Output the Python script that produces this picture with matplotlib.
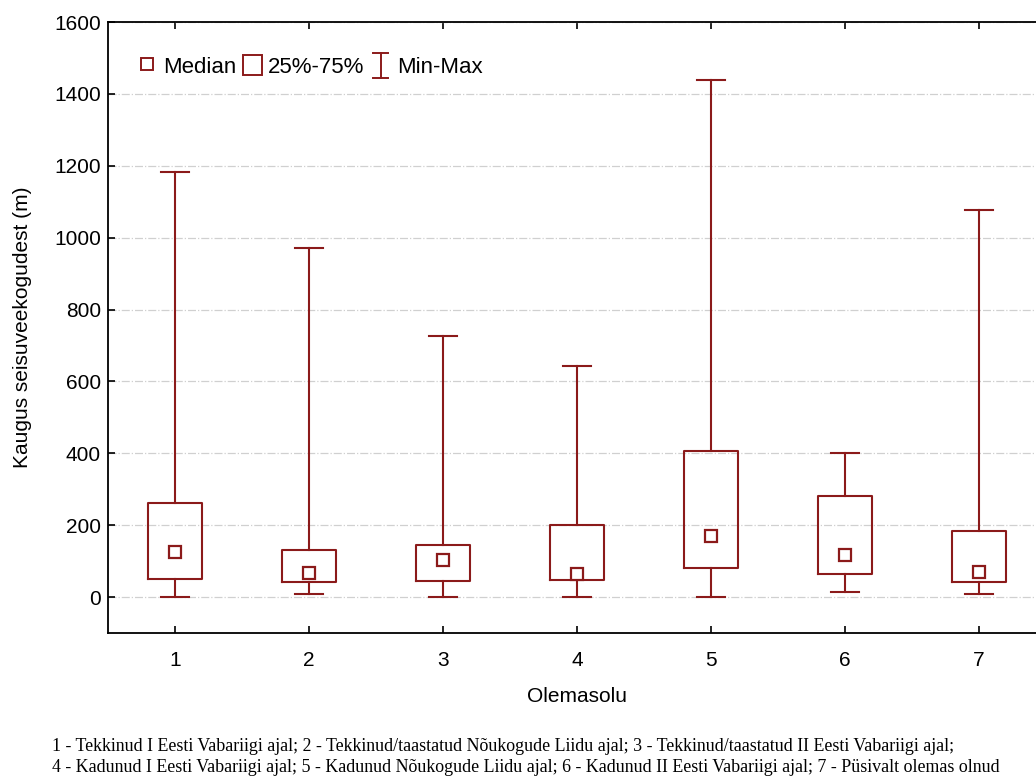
import matplotlib.pyplot as plt
from matplotlib.patches import Patch
from matplotlib.lines import Line2D
from matplotlib.legend_handler import HandlerBase

plt.rcParams['font.family'] = ['Liberation Sans', 'DejaVu Sans']

# Olemasolu rühmad ja kaugused (m)
groups = [1, 2, 3, 4, 5, 6, 7]
minimum = [0, 8, 0, 0, 0, 14, 8]
q1 = [49, 41, 44, 47, 81, 63, 43]
median = [124, 68, 102, 64, 169, 117, 69]
q3 = [262, 131, 145, 200, 406, 282, 183]
maximum = [1183, 972, 725, 642, 1439, 402, 1078]

footnote = ("1 - Tekkinud I Eesti Vabariigi ajal; 2 - Tekkinud/taastatud Nõukogude Liidu ajal; "
            "3 - Tekkinud/taastatud II Eesti Vabariigi ajal;\n"
            "4 - Kadunud I Eesti Vabariigi ajal; 5 - Kadunud Nõukogude Liidu ajal; "
            "6 - Kadunud II Eesti Vabariigi ajal; 7 - Püsivalt olemas olnud")

red = '#8b1a1a'


class MinMaxHandler(HandlerBase):
    # I-kujuline sümbol legendis
    def create_artists(self, legend, orig_handle, xdescent, ydescent,
                       width, height, fontsize, trans):
        cx = width / 2 - xdescent
        y0, y1 = -ydescent - 2, height - ydescent + 2
        w = width * 0.4
        kw = dict(color=red, linewidth=1.4, transform=trans)
        return [Line2D([cx, cx], [y0, y1], **kw),
                Line2D([cx - w, cx + w], [y0, y0], **kw),
                Line2D([cx - w, cx + w], [y1, y1], **kw)]


fig = plt.figure(figsize=(10.36, 7.81), dpi=100)
ax = fig.add_axes([0.1042, 0.1895, 0.9055, 0.7823])

stats = [dict(med=m, q1=a, q3=b, whislo=lo, whishi=hi, fliers=[])
         for m, a, b, lo, hi in zip(median, q1, q3, minimum, maximum)]
line = dict(color=red, linewidth=1.5)
ax.bxp(stats, positions=groups, widths=0.4, showfliers=False,
       boxprops=line, whiskerprops=line, capprops=line,
       medianprops=dict(linestyle='none'), capwidths=0.21)
ax.plot(groups, median, linestyle='none', marker='s', markersize=8.5,
        markerfacecolor='white', markeredgecolor=red, markeredgewidth=1.6)

ax.set_xlim(0.5, 7.5)
ax.set_ylim(-100, 1600)
ax.set_xticks(groups)
ax.set_yticks(range(0, 1601, 200))
ax.tick_params(direction='in', labelsize=15, length=5, width=1.2, top=True)
ax.tick_params(axis='x', pad=13)
ax.tick_params(axis='y', pad=5)
ax.grid(axis='y', color='#d0d0d0', linestyle='-.', linewidth=0.9)
ax.set_axisbelow(True)
for s in ax.spines.values():
    s.set_linewidth(1.3)

ax.set_xlabel('Olemasolu', fontsize=15, labelpad=12)
ax.set_ylabel('Kaugus seisuveekogudest (m)', fontsize=15, labelpad=16)

# legend: mediaan, kvartiilid, min-max
minmax = Line2D([], [])
handles = [Line2D([], [], linestyle='none', marker='s', markersize=8,
                  markerfacecolor='white', markeredgecolor=red,
                  markeredgewidth=1.4),
           Patch(facecolor='white', edgecolor=red, linewidth=1.4),
           minmax]
ax.legend(handles, ['Median', '25%-75%', 'Min-Max'], ncol=3, frameon=False,
          loc='upper left', bbox_to_anchor=(0.01, 0.978), fontsize=16,
          handlelength=0.85, handleheight=1.0, handletextpad=0.3,
          columnspacing=0.3, handler_map={minmax: MinMaxHandler()})

fig.text(0.05, 0.012, footnote, family=['Liberation Serif', 'DejaVu Serif'],
         fontsize=12.9, linespacing=1.3)

fig.savefig('out.png', dpi=100)
